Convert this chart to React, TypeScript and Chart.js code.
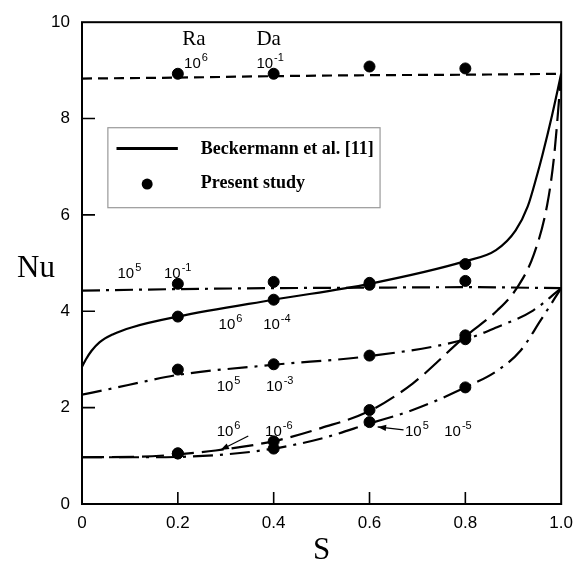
import { useEffect, useRef } from "react";
import { Chart, registerables } from "chart.js";

Chart.register(...registerables);

// Beckermann et al. [11] curves: S and Nu for each (Ra, Da) case
const sRa6Da1 = [0, 0.2, 0.4, 0.6, 0.8, 1.0];
const nuRa6Da1 = [8.83, 8.85, 8.88, 8.9, 8.91, 8.93];

const sRa5Da1 = [0, 0.2, 0.4, 0.6, 0.8, 1.0];
const nuRa5Da1 = [4.43, 4.46, 4.48, 4.49, 4.5, 4.48];

const sRa6Da4 = [0, 0.008, 0.02, 0.037, 0.064, 0.105, 0.2, 0.4, 0.6, 0.8, 0.864, 0.905, 0.93, 0.95, 0.961, 0.981, 1.0];
const nuRa6Da4 = [2.85, 3.0, 3.18, 3.36, 3.52, 3.67, 3.89, 4.24, 4.57, 5.04, 5.27, 5.68, 6.17, 6.84, 7.25, 8.07, 8.93];

const sRa5Da3 = [0, 0.064, 0.134, 0.2, 0.4, 0.6, 0.8, 0.866, 0.942, 1.0];
const nuRa5Da3 = [2.27, 2.4, 2.55, 2.68, 2.89, 3.07, 3.42, 3.67, 4.02, 4.48];

const sRa6Da6 = [0, 0.12, 0.2, 0.279, 0.403, 0.5, 0.6, 0.69, 0.8, 0.867, 0.908, 0.943, 0.971, 0.985, 1.0];
const nuRa6Da6 = [0.97, 0.98, 1.03, 1.11, 1.31, 1.58, 1.93, 2.5, 3.48, 4.02, 4.49, 5.18, 6.22, 7.2, 8.93];

const sRa5Da5 = [0, 0.15, 0.3, 0.4, 0.5, 0.6, 0.69, 0.8, 0.867, 0.915, 0.957, 1.0];
const nuRa5Da5 = [0.97, 0.97, 1.03, 1.15, 1.36, 1.67, 1.95, 2.42, 2.77, 3.18, 3.81, 4.48];

// Present study results
const sStudy = [0.2, 0.4, 0.6, 0.8];
const studyRa6Da1 = [8.93, 8.93, 9.08, 9.04];
const studyRa5Da1 = [4.57, 4.61, 4.59, 4.63];
const studyRa6Da4 = [3.89, 4.24, 4.55, 4.98];
const studyRa5Da3 = [2.79, 2.9, 3.08, 3.42];
const studyRa6Da6 = [1.05, 1.3, 1.95, 3.5];
const studyRa5Da5 = [1.05, 1.15, 1.7, 2.42];

// Axis ticks
const sTicks = [0, 0.2, 0.4, 0.6, 0.8, 1.0];
const nuTicks = [0, 2, 4, 6, 8, 10];

const SANS = '"Liberation Sans", Arial, sans-serif';
const SERIF = '"Liberation Serif", "Times New Roman", serif';

const zip = (xs: number[], ys: number[]) => xs.map((x, i) => ({ x, y: ys[i] }));

function curve(xs: number[], ys: number[], dash: number[]) {
  return {
    type: "line" as const,
    data: zip(xs, ys),
    borderColor: "#000",
    borderWidth: 2.2,
    borderDash: dash,
    pointRadius: 0,
    cubicInterpolationMode: "monotone" as const,
    fill: false,
  };
}

function dots(ys: number[]) {
  return {
    type: "scatter" as const,
    data: zip(sStudy, ys),
    backgroundColor: "#000",
    borderColor: "#000",
    pointRadius: 5.5,
    pointHoverRadius: 5.5,
    showLine: false,
  };
}

// Draws "10" with a raised exponent
function drawPow(ctx: CanvasRenderingContext2D, x: number, y: number, exp: string) {
  ctx.font = `15px ${SANS}`;
  ctx.fillText("10", x, y);
  const w = ctx.measureText("10").width;
  ctx.font = `11px ${SANS}`;
  ctx.fillText(exp, x + w + 1, y - 7);
}

function drawArrow(ctx: CanvasRenderingContext2D, x1: number, y1: number, x2: number, y2: number) {
  ctx.beginPath();
  ctx.moveTo(x1, y1);
  ctx.lineTo(x2, y2);
  ctx.lineWidth = 1.2;
  ctx.stroke();
  const a = Math.atan2(y2 - y1, x2 - x1);
  const len = 9;
  const spread = 0.35;
  ctx.beginPath();
  ctx.moveTo(x2, y2);
  ctx.lineTo(x2 - len * Math.cos(a - spread), y2 - len * Math.sin(a - spread));
  ctx.lineTo(x2 - len * Math.cos(a + spread), y2 - len * Math.sin(a + spread));
  ctx.closePath();
  ctx.fill();
}

const decorPlugin = {
  id: "decor",
  afterDraw(chart: any) {
    const { ctx, chartArea: ca, scales } = chart;
    const xs = scales.x;
    const ys = scales.y;
    const px = (v: number) => xs.getPixelForValue(v);
    const py = (v: number) => ys.getPixelForValue(v);
    ctx.save();
    ctx.fillStyle = "#000";
    ctx.strokeStyle = "#000";
    ctx.setLineDash([]);

    // frame
    ctx.lineWidth = 2;
    ctx.strokeRect(ca.left, ca.top, ca.right - ca.left, ca.bottom - ca.top);

    // inward tick marks
    ctx.lineWidth = 1.6;
    ctx.beginPath();
    for (const v of nuTicks.slice(1, -1)) {
      ctx.moveTo(ca.left, py(v));
      ctx.lineTo(ca.left + 13, py(v));
    }
    for (const v of sTicks.slice(1, -1)) {
      ctx.moveTo(px(v), ca.bottom);
      ctx.lineTo(px(v), ca.bottom - 12);
    }
    ctx.stroke();

    // axis titles
    ctx.textAlign = "center";
    ctx.textBaseline = "middle";
    ctx.font = `31px ${SERIF}`;
    ctx.fillText("Nu", 36, py(4.88));
    ctx.fillText("S", (ca.left + ca.right) / 2, ca.bottom + 47);

    // Ra / Da headers
    ctx.textAlign = "left";
    ctx.textBaseline = "alphabetic";
    ctx.font = `21px ${SERIF}`;
    ctx.fillText("Ra", px(0.209), py(9.53));
    ctx.fillText("Da", px(0.364), py(9.53));

    // case labels
    const labels: [number, number, string][] = [
      [0.213, 9.04, "6"], [0.364, 9.04, "-1"],
      [0.074, 4.69, "5"], [0.171, 4.69, "-1"],
      [0.285, 3.63, "6"], [0.378, 3.63, "-4"],
      [0.281, 2.34, "5"], [0.384, 2.34, "-3"],
      [0.281, 1.41, "6"], [0.382, 1.41, "-6"],
      [0.674, 1.41, "5"], [0.756, 1.41, "-5"],
    ];
    for (const [s, nu, e] of labels) drawPow(ctx, px(s), py(nu), e);

    drawArrow(ctx, px(0.347), py(1.41), px(0.289), py(1.12));
    drawArrow(ctx, px(0.671), py(1.54), px(0.617), py(1.6));

    // legend
    const lx0 = px(0.054), lx1 = px(0.622);
    const ly0 = py(7.81), ly1 = py(6.15);
    ctx.fillStyle = "#fff";
    ctx.fillRect(lx0, ly0, lx1 - lx0, ly1 - ly0);
    ctx.strokeStyle = "#999";
    ctx.lineWidth = 1.2;
    ctx.strokeRect(lx0, ly0, lx1 - lx0, ly1 - ly0);
    ctx.strokeStyle = "#000";
    ctx.fillStyle = "#000";
    ctx.lineWidth = 3;
    ctx.beginPath();
    ctx.moveTo(px(0.072), py(7.38));
    ctx.lineTo(px(0.2), py(7.38));
    ctx.stroke();
    ctx.beginPath();
    ctx.arc(px(0.136), py(6.64), 5.5, 0, Math.PI * 2);
    ctx.fill();
    ctx.font = `bold 18px ${SERIF}`;
    ctx.fillText("Beckermann et al. [11]", px(0.248), py(7.27));
    ctx.fillText("Present study", px(0.248), py(6.56));

    ctx.restore();
  },
};

export default function App() {
  const canvasRef = useRef<HTMLCanvasElement | null>(null);

  useEffect(() => {
    const canvas = canvasRef.current;
    if (!canvas) return;
    const chart = new Chart(canvas, {
      type: "scatter",
      data: {
        datasets: [
          dots(studyRa6Da1),
          dots(studyRa5Da1),
          dots(studyRa6Da4),
          dots(studyRa5Da3),
          dots(studyRa6Da6),
          dots(studyRa5Da5),
          curve(sRa6Da1, nuRa6Da1, [10, 6]),
          curve(sRa5Da1, nuRa5Da1, [18, 6, 3, 6]),
          curve(sRa6Da4, nuRa6Da4, []),
          curve(sRa5Da3, nuRa5Da3, [20, 7, 3, 7]),
          curve(sRa6Da6, nuRa6Da6, [22, 8]),
          curve(sRa5Da5, nuRa5Da5, [20, 7, 3, 7]),
        ] as any,
      },
      options: {
        responsive: false,
        animation: false,
        events: [],
        layout: { padding: { top: 16, right: 16, left: 0, bottom: 0 } },
        plugins: {
          legend: { display: false },
          tooltip: { enabled: false },
        },
        scales: {
          x: {
            type: "linear",
            min: 0,
            max: 1,
            afterFit: (scale: any) => {
              scale.height = 58;
            },
            afterBuildTicks: (scale: any) => {
              scale.ticks = sTicks.map((v) => ({ value: v }));
            },
            grid: { display: false, drawTicks: false },
            border: { display: false },
            ticks: {
              padding: 9,
              color: "#000",
              font: { family: SANS, size: 17 },
              callback: (v: any) => (Number(v) === 0 ? "0" : Number(v).toFixed(1)),
            },
          },
          y: {
            type: "linear",
            min: 0,
            max: 10,
            afterFit: (scale: any) => {
              scale.width = 82;
            },
            afterBuildTicks: (scale: any) => {
              scale.ticks = nuTicks.map((v) => ({ value: v }));
            },
            grid: { display: false, drawTicks: false },
            border: { display: false },
            ticks: {
              padding: 12,
              color: "#000",
              font: { family: SANS, size: 17 },
              callback: (v: any) => String(v),
            },
          },
        },
      },
      plugins: [decorPlugin],
    });
    return () => chart.destroy();
  }, []);

  return (
    <div style={{ position: "absolute", left: 0, top: 0, width: 582, height: 562, background: "#fff" }}>
      <canvas ref={canvasRef} width={582} height={562} style={{ display: "block" }} />
    </div>
  );
}
